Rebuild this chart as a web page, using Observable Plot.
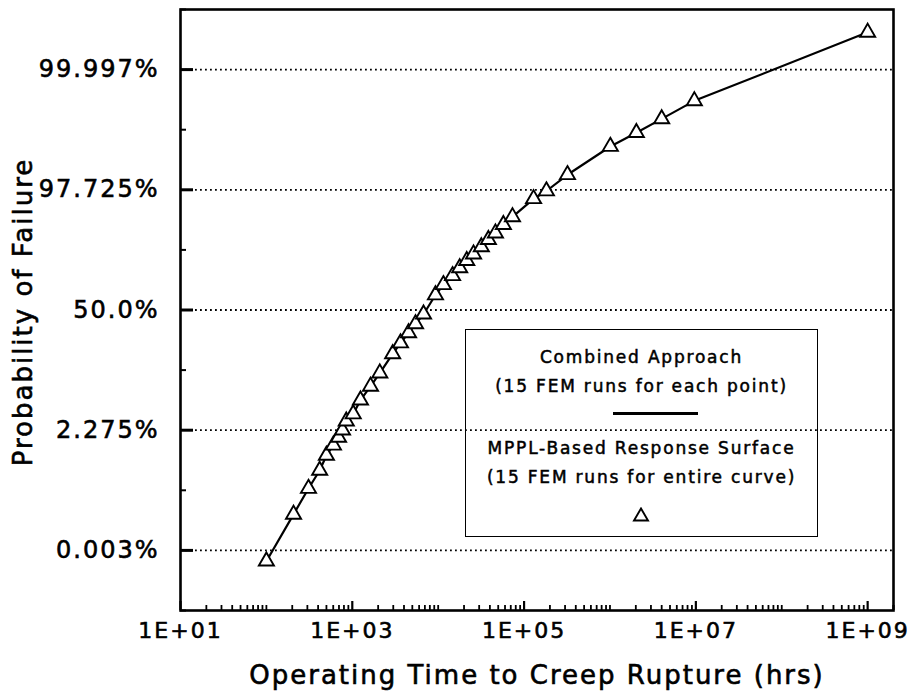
<!DOCTYPE html>
<html><head><meta charset="utf-8">
<script src="https://cdn.jsdelivr.net/npm/d3@7"></script>
<script src="https://cdn.jsdelivr.net/npm/@observablehq/plot@0.6"></script>
<style>
body{margin:0;background:#fff;}
#wrap{position:relative;width:909px;height:698px;overflow:hidden;}
#wrap svg text{letter-spacing:2px;stroke:#000;stroke-width:0.6px;}
#legend{position:absolute;left:465px;top:329px;width:353px;height:208px;border:1.5px solid #000;box-sizing:border-box;
  font-family:"DejaVu Sans";font-size:17px;letter-spacing:1.8px;color:#000;-webkit-text-stroke:0.5px #000;}
#legend .t{position:absolute;left:0;right:0;text-align:center;line-height:20px;height:20px;white-space:nowrap;}
#legend .ln{position:absolute;left:147px;width:85px;height:2.5px;background:#000;}
#legend svg{position:absolute;left:166px;}
</style></head>
<body><div id="wrap"></div>
<script>
// Operating time to creep rupture (hours) and probability of failure as standard normal variate z
const hours = [100, 207, 309, 417, 500, 603, 692, 769, 851, 1025, 1245, 1630, 2090, 2950, 3640, 4520, 5450, 6750,
  9300, 11500, 14700, 17800, 21500, 25800, 31800, 38400, 46400, 57400, 73300, 129000, 182000, 320000,
  1.01e6, 2.03e6, 4.0e6, 9.6e6, 1.0e9];
const zValues = [-4.18, -3.40, -2.97, -2.67, -2.42, -2.25, -2.12, -2.00, -1.85, -1.73, -1.50, -1.27, -1.05, -0.73, -0.55, -0.38, -0.23, -0.07,
  0.25, 0.42, 0.57, 0.70, 0.82, 0.93, 1.05, 1.17, 1.28, 1.42, 1.55, 1.85, 1.98, 2.25,
  2.72, 2.95, 3.18, 3.48, 4.62];
const yTickZ = [-4, -2, 0, 2, 4];
const yTickLabels = ["0.003%", "2.275%", "50.0%", "97.725%", "99.997%"];
const yMinorZ = [-5, -3, -1, 1, 3, 5];
const xTickValues = [1e1, 1e3, 1e5, 1e7, 1e9];
const xTickLabels = ["1E+01", "1E+03", "1E+05", "1E+07", "1E+09"];
const xTitle = "Operating Time to Creep Rupture (hrs)";
const yTitle = "Probability of Failure";

const data = hours.map((h, i) => ({h, z: zValues[i]}));

const W = 909, H = 698, mL = 180, mR = 16, mT = 9, mB = 88;
const xDomain = [10, 2e9], zMin = -5, zMax = 5;
const pxPerZ = (H - mT - mB) / (zMax - zMin);
const pxPerDecade = (W - mL - mR) / Math.log10(xDomain[1] / xDomain[0]);
const xMinor = [];
for (let e = 1; e <= 9; e++) for (let m = 1; m <= 9; m++) { const v = m * 10 ** e; if (v <= xDomain[1] && !xTickValues.includes(v)) xMinor.push(v); }
xMinor.push(2e9);

const plot = Plot.plot({
  width: W, height: H, marginLeft: mL, marginRight: mR, marginTop: mT, marginBottom: mB,
  x: {type: "log", domain: xDomain, axis: null},
  y: {domain: [zMin, zMax], axis: null},
  style: {fontFamily: "DejaVu Sans", fontSize: "22px", color: "#000", background: "#fff", overflow: "visible"},
  marks: [
    Plot.ruleY(yTickZ, {y: d => d, stroke: "#000", strokeWidth: 1.8, strokeDasharray: "1.8,3.2"}),
    Plot.ruleY(yTickZ, {y: d => d, x1: xDomain[0], x2: xDomain[0] * 10 ** (13 / pxPerDecade), stroke: "#000", strokeWidth: 3}),
    Plot.ruleY(yMinorZ, {y: d => d, x1: xDomain[0], x2: xDomain[0] * 10 ** (6 / pxPerDecade), stroke: "#000", strokeWidth: 2}),
    Plot.ruleX(xMinor, {x: d => d, y1: zMin, y2: zMin + 5 / pxPerZ, stroke: "#000", strokeWidth: 1.8}),
    Plot.ruleX(xTickValues, {x: d => d, y1: zMin, y2: zMin + 9 / pxPerZ, stroke: "#000", strokeWidth: 2.2}),
    Plot.frame({stroke: "#000", strokeWidth: 2.6}),
    Plot.line(data, {x: "h", y: "z", stroke: "#000", strokeWidth: 2.2}),
    Plot.dot(data, {x: "h", y: "z", symbol: "triangle", r: 5.6, stroke: "#000", fill: "#fff", strokeWidth: 1.9}),
    Plot.text(xTickValues, {x: d => d, frameAnchor: "bottom", lineAnchor: "top", dy: 12, text: (d, i) => xTickLabels[i], fill: "#000"}),
    Plot.text(yTickZ, {y: d => d, frameAnchor: "left", textAnchor: "end", dx: -21, text: (d, i) => yTickLabels[i], fill: "#000", fontSize: 24}),
    Plot.text([xTitle], {frameAnchor: "bottom", lineAnchor: "middle", dy: 65, text: d => d, fontSize: 26, fill: "#000"}),
    Plot.text([yTitle], {frameAnchor: "left", textAnchor: "middle", rotate: -90, dx: -157, dy: 2, text: d => d, fontSize: 26, fill: "#000"})
  ]
});
const wrap = document.getElementById("wrap");
wrap.appendChild(plot);

const legend = document.createElement("div");
legend.id = "legend";
legend.innerHTML = `
  <div class="t" style="top:17px">Combined Approach</div>
  <div class="t" style="top:46px">(15 FEM runs for each point)</div>
  <div class="ln" style="top:82px"></div>
  <div class="t" style="top:108px">MPPL-Based Response Surface</div>
  <div class="t" style="top:137px">(15 FEM runs for entire curve)</div>
  <svg width="18" height="15" style="top:177px" viewBox="0 0 18 15"><path d="M9,1.5 L16,13.5 L2,13.5 Z" fill="#fff" stroke="#000" stroke-width="1.9"/></svg>`;
wrap.appendChild(legend);
</script>
</body></html>
